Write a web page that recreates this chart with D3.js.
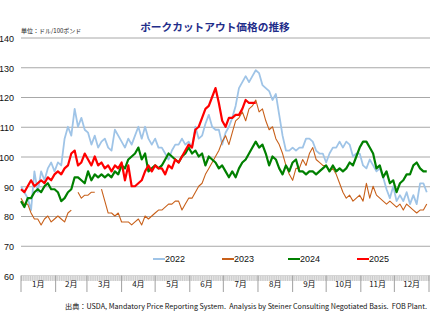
<!DOCTYPE html>
<html>
<head>
<meta charset="utf-8">
<script src="https://cdn.jsdelivr.net/npm/d3@7"></script>
<style>
body { margin: 0; background: #fff; }
svg { display: block; }
</style>
</head>
<body>
<script>
let w = 430;
let h = 327;

// values every 3 days from Jan 1
var dayStep = 3;
var months = ["1月","2月","3月","4月","5月","6月","7月","8月","9月","10月","11月","12月"];
var monthStarts = [0,31,59,90,120,151,181,212,243,273,304,334,365];
var yTicks = [60,70,80,90,100,110,120,130,140];

var y2022 = [90,88,86,82,95,88,95,92,96,98,95,98,97,106,110,107,116,110,113,109,108,104,107,103,105,106,103,102,109,107,105,
  103,106,104,107,110,106,110,106,104,106,103,103,101,99,102,104,104,106,104,105,103,110,106,107,111,114,110,109,109,104,
  108,110,113,117,123,125,127,125,127,129,128,124,123,122,119,121,114,107,102,102,103,102,103,103,106,106,105,102,101,101,98,
  101,103,103,105,103,105,104,100,101,101,97,96,99,97,95,96,93,89,86,90,85,87,85,88,84,87,84,91,91,88];
var y2023 = [86,84,84,81,79,79,77,79,80,78,79,80,79,78,81,82,null,88,86,87,87,88,88,null,89,85,81,81,80,81,78,
  78,78,77,78,79,77,80,79,80,81,82,82,83,84,84,85,85,82,84,86,86,88,90,91,94,96,98,100,102,105,
  107,104,108,112,113,115,112,116,117,119,115,116,112,109,110,106,104,101,97,94,92,96,96,99,97,101,103,99,98,97,97,
  95,96,94,91,88,86,87,85,86,87,85,91,86,90,87,86,85,84,85,84,83,84,82,84,83,82,81,82,82,84];
var y2024 = [85,83,86,86,88,89,88,90,91,89,89,88,85,86,88,89,93,93,92,91,95,92,94,93,94,93,94,93,95,94,97,
  96,99,100,101,103,99,101,95,96,97,96,97,99,101,100,99,98,100,101,103,101,102,100,101,97,100,99,98,96,97,
  95,93,95,93,96,98,99,101,103,105,103,104,101,97,100,99,96,94,97,95,98,99,95,95,94,95,95,94,95,96,97,
  95,97,95,96,95,96,98,97,100,103,105,105,103,101,96,97,93,95,91,92,88,91,92,94,94,97,98,96,95,95];
var y2025 = [89,88,90,92,90,91,92,91,93,92,94,95,94,96,97,101,102,97,98,101,99,97,100,97,98,96,97,95,97,96,98,
  92,97,90,90,91,92,95,97,95,97,96,96,94,97,96,99,98,100,102,104,103,109,110,113,116,117,120,123,118,112,
  110,113,113,114,114,116,119,118,118,118];

var series = [
  {name: "2022", values: y2022, color: "#9fc4e7", width: 1.8},
  {name: "2023", values: y2023, color: "#c8601a", width: 1.1},
  {name: "2024", values: y2024, color: "#008000", width: 2.2},
  {name: "2025", values: y2025, color: "#ff0000", width: 2.2}
];

var plotLeft = 21, plotRight = 429, plotTop = 37.5, plotBottom = 275.5;

let svg = d3.select("body").append("svg").attr("width", w).attr("height", h);

let xScale = d3.scaleLinear().domain([0, 365]).range([plotLeft, plotRight]);
let yScale = d3.scaleLinear().domain([60, 140]).range([plotBottom, plotTop]);

// title
svg.append("text")
    .text("ポークカットアウト価格の推移")
    .attr("x", 215)
    .attr("y", 31)
    .style("font-family", "'Noto Sans CJK JP'")
    .style("font-weight", "bold")
    .style("font-size", "10.7px")
    .style("fill", "#1f2d8a")
    .style("text-anchor", "middle");

svg.append("text")
    .text("単位：ドル/100ポンド")
    .attr("x", 21)
    .attr("y", 33)
    .style("font-family", "'Noto Sans CJK JP'")
    .style("font-size", "6px")
    .style("fill", "#222");

// gridlines
var yAxis = d3.axisLeft(yScale)
    .tickValues(yTicks)
    .tickSize(-(w - plotLeft))
    .tickFormat(d3.format("d"));

let gy = svg.append("g")
    .attr("transform", "translate(" + plotLeft + ",0)")
    .call(yAxis);
gy.select(".domain").remove();
gy.selectAll(".tick line").attr("stroke", "#a8a8a8").attr("stroke-width", 1);
gy.selectAll(".tick text")
    .attr("x", -7)
    .attr("dy", "0.42em")
    .style("font-family", "'Liberation Sans', Arial, sans-serif")
    .style("font-size", "9px")
    .style("fill", "#111");

// x axis band
svg.append("rect")
    .attr("x", plotLeft).attr("y", 276)
    .attr("width", w - plotLeft).attr("height", 5)
    .attr("fill", "#e4e4e4");

var xTickAxis = d3.axisBottom(xScale)
    .tickValues(d3.range(0, 366, 2))
    .tickSize(5)
    .tickFormat("");
let gx = svg.append("g")
    .attr("transform", "translate(0,276)")
    .call(xTickAxis);
gx.select(".domain").remove();
gx.selectAll(".tick line").attr("stroke", "#c4c4c4").attr("stroke-width", 0.8);

svg.selectAll("line.sep")
    .data(monthStarts)
    .enter()
    .append("line")
    .attr("class", "sep")
    .attr("x1", function(d) { return xScale(d); })
    .attr("x2", function(d) { return xScale(d); })
    .attr("y1", 275.5)
    .attr("y2", 292)
    .attr("stroke", "#a0a0a0")
    .attr("stroke-width", 1);

svg.selectAll("text.month")
    .data(months)
    .enter()
    .append("text")
    .attr("class", "month")
    .text(function(d) { return d; })
    .attr("x", function(d, i) { return xScale((monthStarts[i] + monthStarts[i + 1]) / 2); })
    .attr("y", 287)
    .style("font-family", "'Noto Sans CJK JP'")
    .style("font-size", "8px")
    .style("fill", "#111")
    .style("text-anchor", "middle");

// lines
var line = d3.line()
    .defined(function(d) { return d != null; })
    .x(function(d, i) { return xScale(i * dayStep); })
    .y(function(d) { return yScale(d); });

svg.selectAll("path.series")
    .data(series)
    .enter()
    .append("path")
    .attr("class", "series")
    .attr("d", function(d) { return line(d.values); })
    .attr("fill", "none")
    .attr("stroke", function(d) { return d.color; })
    .attr("stroke-width", function(d) { return d.width; })
    .attr("stroke-linejoin", "round");

// legend
var legendX = [153, 222, 288, 357];
let lg = svg.selectAll("g.legend")
    .data(series)
    .enter()
    .append("g")
    .attr("class", "legend")
    .attr("transform", function(d, i) { return "translate(" + legendX[i] + ",259)"; });
lg.append("line")
    .attr("x1", 0).attr("x2", 12)
    .attr("stroke", function(d) { return d.color; })
    .attr("stroke-width", 2);
lg.append("text")
    .text(function(d) { return d.name; })
    .attr("x", 12)
    .attr("dy", "0.36em")
    .style("font-family", "'Liberation Sans', Arial, sans-serif")
    .style("font-size", "9px")
    .style("fill", "#111");

// source
svg.append("text")
    .text("出典：USDA, Mandatory Price Reporting System.  Analysis by Steiner Consulting Negotiated Basis.  FOB Plant.")
    .attr("x", 65)
    .attr("y", 309)
    .attr("textLength", 362)
    .attr("lengthAdjust", "spacingAndGlyphs")
    .style("white-space", "pre")
    .style("font-family", "'Noto Sans CJK JP'")
    .style("font-size", "7px")
    .style("fill", "#111");
</script>
</body>
</html>
